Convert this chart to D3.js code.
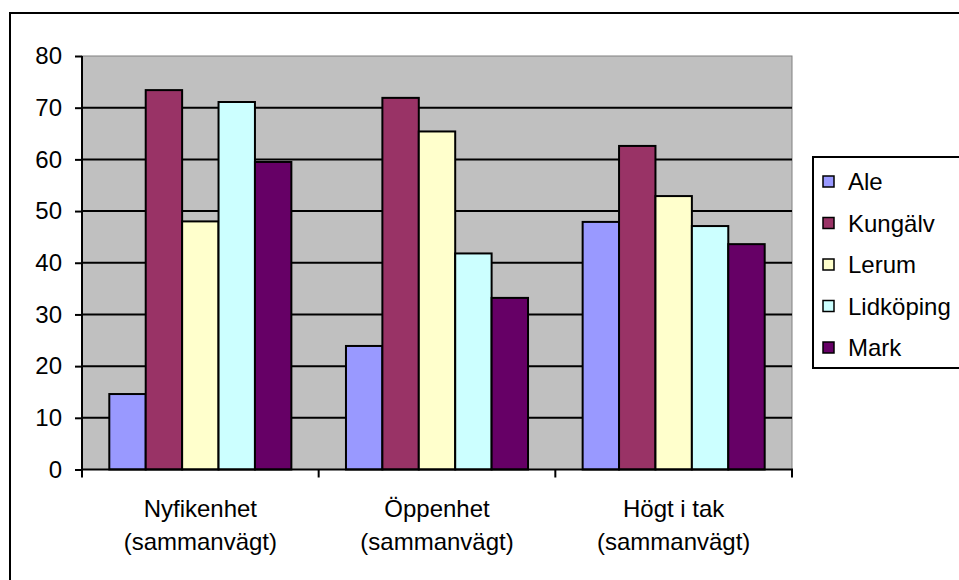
<!DOCTYPE html>
<html>
<head>
<meta charset="utf-8">
<script src="https://cdn.jsdelivr.net/npm/d3@7"></script>
<style>
  html, body { margin: 0; padding: 0; background: #fff; }
  svg { display: block; font-family: "Liberation Sans", Arial, sans-serif; }
</style>
</head>
<body>
<svg id="chart" width="959" height="580"></svg>
<script>
// Categories (two-line labels) and the five series
const categories = ["Nyfikenhet|(sammanvägt)", "Öppenhet|(sammanvägt)", "Högt i tak|(sammanvägt)"];
const seriesNames = ["Ale", "Kungälv", "Lerum", "Lidköping", "Mark"];
const ale       = [14.6, 23.9, 47.9];
const kungalv   = [73.4, 71.9, 62.6];
const lerum     = [48.0, 65.4, 52.9];
const lidkoping = [71.1, 41.8, 47.1];
const mark      = [59.5, 33.2, 43.6];
const yTicks = [0, 10, 20, 30, 40, 50, 60, 70, 80];
const seriesColors = ["#9999FF", "#993366", "#FFFFCC", "#CCFFFF", "#660066"];

const seriesValues = [ale, kungalv, lerum, lidkoping, mark];
const FONT = 24;

const svg = d3.select("#chart");

// Outer chart frame (continues past the right and bottom edges)
svg.append("rect")
  .attr("x", 10).attr("y", 13)
  .attr("width", 1000).attr("height", 600)
  .attr("fill", "#fff").attr("stroke", "#000").attr("stroke-width", 2);

const plot = { left: 82, right: 792, top: 56, bottom: 469.5 };

const y = d3.scaleLinear().domain([0, 80]).range([plot.bottom, plot.top]);
const x0 = d3.scaleBand().domain(categories).range([plot.left, plot.right]).padding(0);
const step = x0.bandwidth();
const barW = step / 6.5;                 // gap width 150%
const x1 = d3.scaleBand().domain(seriesNames)
  .range([0.75 * barW, step - 0.75 * barW]).padding(0);
const color = d3.scaleOrdinal().domain(seriesNames).range(seriesColors);

// Plot area background
svg.append("rect")
  .attr("x", plot.left).attr("y", plot.top)
  .attr("width", plot.right - plot.left).attr("height", plot.bottom - plot.top)
  .attr("fill", "#C0C0C0").attr("stroke", "#808080").attr("stroke-width", 1);

// Horizontal gridlines
svg.append("g").selectAll("line")
  .data(yTicks.filter(t => t > 0 && t < 80))
  .join("line")
  .attr("x1", plot.left).attr("x2", plot.right)
  .attr("y1", d => y(d)).attr("y2", d => y(d))
  .attr("stroke", "#000").attr("stroke-width", 2);

// Bars
const rows = categories.map((c, i) => ({ cat: c, vals: seriesNames.map((s, j) => ({ s, v: seriesValues[j][i] })) }));
svg.append("g").selectAll("g")
  .data(rows)
  .join("g")
  .attr("transform", d => `translate(${x0(d.cat)},0)`)
  .selectAll("rect")
  .data(d => d.vals)
  .join("rect")
  .attr("x", d => x1(d.s))
  .attr("width", x1.bandwidth())
  .attr("y", d => y(d.v))
  .attr("height", d => y(0) - y(d.v))
  .attr("fill", d => color(d.s))
  .attr("stroke", "#000").attr("stroke-width", 2);

// Y axis
const yAxis = d3.axisLeft(y).tickValues(yTicks).tickSize(7).tickPadding(13);
const gy = svg.append("g").attr("transform", `translate(${plot.left},0)`).call(yAxis);
gy.attr("font-size", FONT).attr("font-family", "'Liberation Sans', Arial, sans-serif");
gy.select(".domain").attr("stroke", "#000").attr("stroke-width", 2)
  .attr("d", `M0,${plot.top}V${plot.bottom + 1}`);
gy.selectAll(".tick line").attr("stroke", "#000").attr("stroke-width", 2);
gy.selectAll(".tick text").attr("font-size", FONT).attr("fill", "#000");

// X axis line and category boundary ticks
const gx = svg.append("g");
gx.append("line")
  .attr("x1", plot.left - 1).attr("x2", plot.right + 1)
  .attr("y1", plot.bottom).attr("y2", plot.bottom)
  .attr("stroke", "#000").attr("stroke-width", 2);
const bounds = categories.map(c => x0(c)).concat([plot.right]);
gx.selectAll("line.tk").data(bounds).join("line").attr("class", "tk")
  .attr("x1", d => d).attr("x2", d => d)
  .attr("y1", plot.bottom).attr("y2", plot.bottom + 8)
  .attr("stroke", "#000").attr("stroke-width", 2);

// Category labels (two lines)
const lbl = gx.selectAll("text.cat").data(categories).join("text").attr("class", "cat")
  .attr("x", d => x0(d) + step / 2)
  .attr("y", 517)
  .attr("text-anchor", "middle")
  .attr("font-size", FONT).attr("fill", "#000");
lbl.each(function(d) {
  const parts = d.split("|");
  const t = d3.select(this);
  parts.forEach((p, i) => {
    t.append("tspan").attr("x", x0(d) + step / 2).attr("dy", i === 0 ? 0 : 33).text(p);
  });
});

// Legend
const lg = svg.append("g");
lg.append("rect")
  .attr("x", 813).attr("y", 157)
  .attr("width", 200).attr("height", 211)
  .attr("fill", "#fff").attr("stroke", "#000").attr("stroke-width", 2);
const items = lg.selectAll("g.item").data(seriesNames).join("g").attr("class", "item")
  .attr("transform", (d, i) => `translate(823,${182 + i * 41.5})`);
items.append("rect")
  .attr("x", 0).attr("y", -6).attr("width", 11).attr("height", 11)
  .attr("fill", d => color(d)).attr("stroke", "#000").attr("stroke-width", 1.5);
items.append("text")
  .attr("x", 25).attr("y", 0).attr("dy", "0.35em")
  .attr("font-size", FONT).attr("fill", "#000")
  .text(d => d);
</script>
</body>
</html>
